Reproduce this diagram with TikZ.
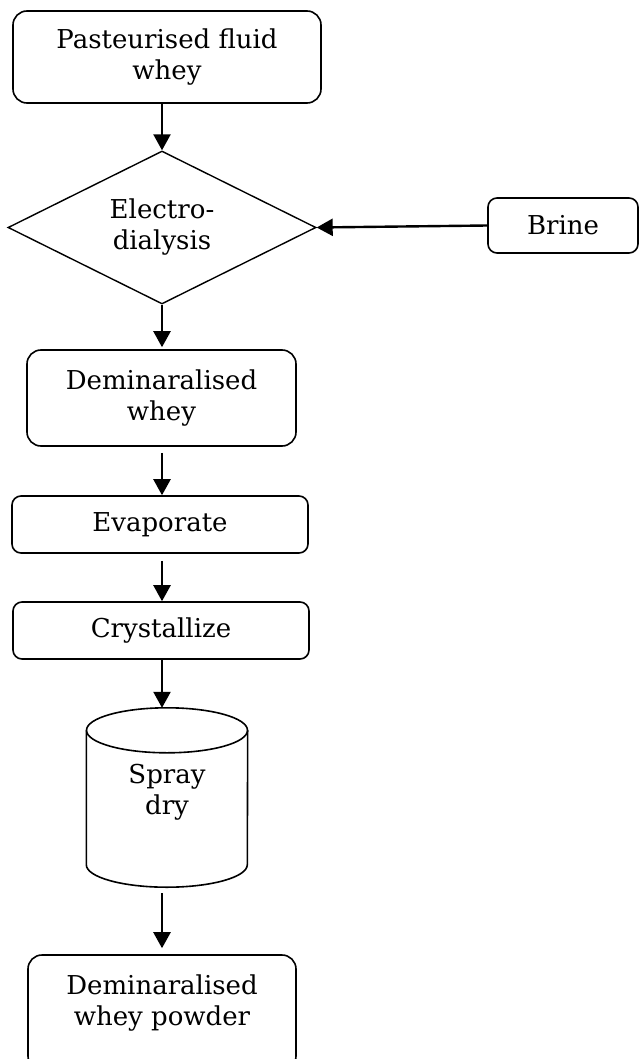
\documentclass[tikz,border=0pt]{standalone}
\usepackage{fontspec}
\setmainfont{DejaVu Serif}
\usetikzlibrary{arrows.meta,shapes.geometric}
\tikzset{
  txt/.style={align=center, font=\fontsize{26}{31}\selectfont},
  box/.style={txt, draw, line width=1.6pt, inner sep=0pt},
  bigbox/.style={box, rounded corners=14pt},
  smallbox/.style={box, rounded corners=9pt},
  decision/.style={txt, draw, diamond, aspect=2, line width=1.4pt, inner sep=0pt},
  flow/.style={line width=2.4pt, -{Triangle[length=16pt,width=17pt]}},
  outline/.style={line width=1.6pt},
}
\begin{document}
\begin{tikzpicture}[x=1pt,y=1pt]
\useasboundingbox (0,0) rectangle (639,-1059);

% process steps
\node[bigbox, minimum width=308pt, minimum height=92pt] (src) at (167,-57) {Pasteurised fluid\\whey};
\node[decision, minimum width=308pt, minimum height=153pt] (ed) at (162,-227.5) {Electro-\\dialysis};
\node[smallbox, minimum width=150pt, minimum height=55pt] (brine) at (563,-225.5) {Brine};
\node[bigbox, minimum width=269pt, minimum height=96pt] (dw) at (161.5,-398) {Deminaralised\\whey};
\node[smallbox, minimum width=296pt, minimum height=57pt] (evap) at (160,-524.5) {Evaporate};
\node[smallbox, minimum width=296pt, minimum height=57pt] (cryst) at (161,-630.5) {Crystallize};

% spray dryer drawn as a cylinder around its label
\node[txt, minimum width=161pt, minimum height=179pt, inner sep=0pt, text depth=16pt] (sd) at (167,-797.5) {Spray\\dry};
\draw[outline] ([yshift=-22.5pt]sd.north) ellipse [x radius=80.5pt, y radius=22.5pt];
\draw[outline] ([yshift=-22.5pt]sd.north west) -- ([yshift=22.5pt]sd.south west)
  arc[start angle=180, end angle=360, x radius=80.5pt, y radius=22.5pt]
  -- ([yshift=-22.5pt]sd.north east);

\node[bigbox, minimum width=268pt, minimum height=115pt, text depth=25pt] (fin) at (162,-1012.5) {Deminaralised\\whey powder};

% connectors
\draw[flow] (src.south -| ed.center) -- (ed.north);
\draw[flow] (brine.west) -- (ed.east);
\draw[flow, shorten >=2pt] (ed.south) -- (dw.north -| ed.center);
\draw[flow, shorten <=6pt] (dw.south -| ed.center) -- (evap.north -| ed.center);
\draw[flow, shorten <=7pt] (evap.south -| ed.center) -- (cryst.north -| ed.center);
\draw[flow] (cryst.south -| ed.center) -- (sd.north -| ed.center);
\draw[flow, shorten <=6pt, shorten >=6pt] (sd.south -| ed.center) -- (fin.north -| ed.center);
\end{tikzpicture}
\end{document}
